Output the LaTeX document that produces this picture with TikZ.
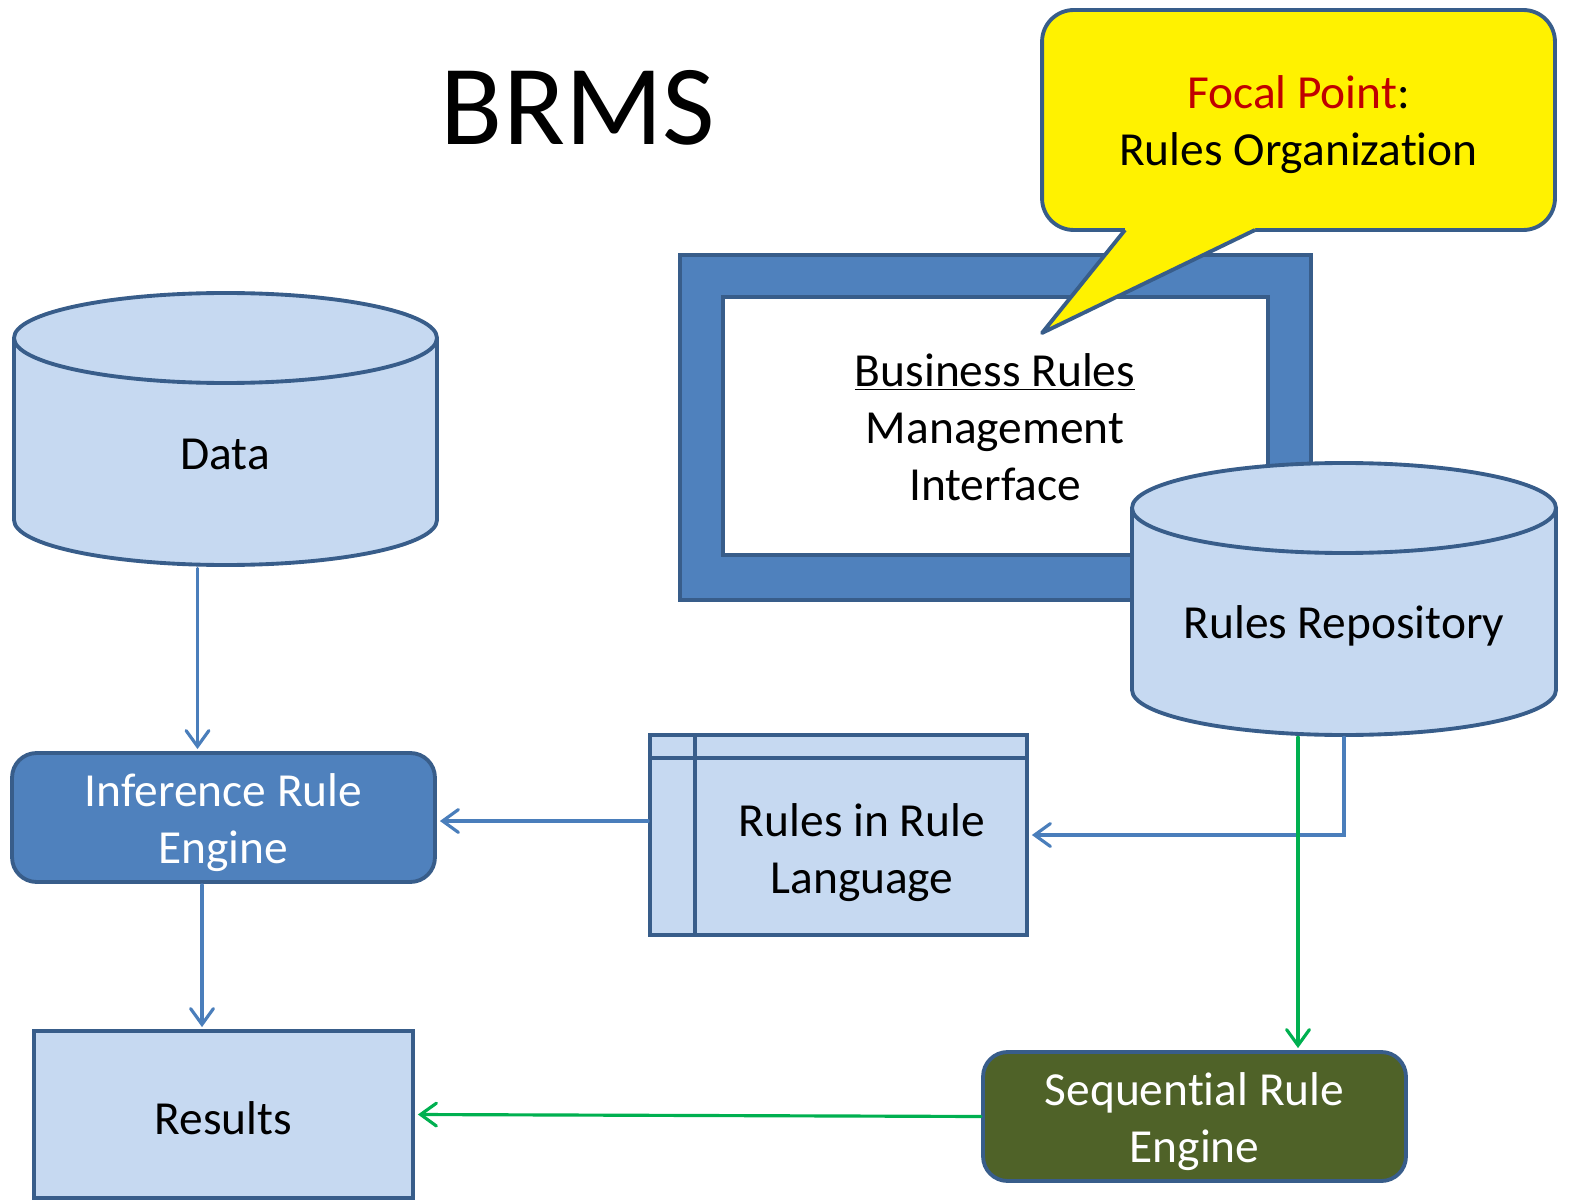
\documentclass[tikz,border=0pt]{standalone}
\usepackage{fontspec}
\setmainfont{Carlito}[Ligatures={NoCommon}]
\usetikzlibrary{arrows.meta,calc}
\definecolor{lightfill}{HTML}{C6D9F1}
\definecolor{bordc}{HTML}{385D8A}
\definecolor{medfill}{HTML}{4F81BD}
\definecolor{connb}{HTML}{4A7EBB}
\definecolor{conng}{HTML}{00B050}
\definecolor{olive}{HTML}{4F6228}
\definecolor{focred}{HTML}{C00000}
\begin{document}
\begin{tikzpicture}[x=0.02cm,y=-0.02cm,
  txt/.style={font=\fontsize{27}{32.4}\selectfont, align=center},
  bord/.style={draw=bordc, line width=2.2pt},
  conn/.style={draw=connb, line width=1.8pt, line cap=round, -{Straight Barb[length=9pt,width=13pt,line cap=round]}},
  gconn/.style={conn, draw=conng},
  box/.style={bord, inner sep=0pt},
  ghost/.style={inner sep=0pt}
]
\useasboundingbox (0,0) rectangle (1571,1202);

% title
\node[font=\fontsize{65}{70}\selectfont] (title) at (578,108) {BRMS};

% BRMS interface frame
\node[draw=bordc, line width=1.8pt, fill=medfill, minimum width=12.62cm, minimum height=6.9cm, inner sep=0pt] (frame) at (995.5,427.5) {};
\node[bord, fill=white, minimum width=10.9cm, minimum height=5.16cm, inner sep=0pt] (brmi) at (995.5,426) {};
\node[txt] (brmitext) at (995,427) {\underline{Business Rules}\\Management\\Interface};

% callout
\node[box, fill=yellow, rounded corners=18pt, minimum width=10.26cm, minimum height=4.4cm] (callout) at (1298.5,120) {};
\fill[yellow] (1125,230) -- (1042,333) -- (1255,230) -- (1255,225) -- (1125,225) -- cycle;
\draw[bord, line join=round] (1125,230) -- (1042,333) -- (1255,230);
\node[txt] (callouttext) at (1298.5,125) {\textcolor{focred}{Focal Point}:\\Rules Organization};

% Data cylinder
\filldraw[bord, fill=lightfill] (225.5,520) ellipse [x radius=211.5, y radius=45];
\fill[lightfill] (14,338) rectangle (437,520);
\draw[bord] (14,338) -- (14,520) (437,338) -- (437,520);
\filldraw[bord, fill=lightfill] (225.5,338) ellipse [x radius=211.5, y radius=45];
\node[ghost, minimum width=8.46cm, minimum height=5.44cm] (data) at (225.5,429) {};
\node[txt] (datatext) at (225,454) {Data};

% Rules Repository cylinder
\filldraw[bord, fill=lightfill] (1344,690) ellipse [x radius=212, y radius=45];
\fill[lightfill] (1132,508) rectangle (1556,690);
\draw[bord] (1132,508) -- (1132,690) (1556,508) -- (1556,690);
\filldraw[bord, fill=lightfill] (1344,508) ellipse [x radius=212, y radius=45];
\node[ghost, minimum width=8.48cm, minimum height=5.46cm] (repo) at (1344,598.5) {};
\node[txt] (repotext) at (1344,626) {Rules Repository};

% Inference Rule Engine
\node[box, fill=medfill, rounded corners=14pt, minimum width=8.46cm, minimum height=2.58cm] (inf) at (223.5,817.5) {};
\node[txt, text=white] (inftext) at (223.5,822.5) {Inference Rule\\Engine};

% Rules in Rule Language
\node[bord, fill=lightfill, minimum width=7.54cm, minimum height=4.0cm, inner sep=0pt] (rrl) at (838.5,835) {};
\draw[bord] ($(rrl.north west)+(0,25)$) -- ($(rrl.north east)+(0,25)$)
            ($(rrl.north west)+(47,0)$) -- ($(rrl.south west)+(47,0)$);
\node[txt] (rrltext) at (862,853) {Rules in Rule\\Language};

% Results
\node[box, fill=lightfill, minimum width=7.58cm, minimum height=3.34cm] (results) at (223.5,1114.5) {};
\node[txt] (resultstext) at (223.5,1118.5) {Results};

% Sequential Rule Engine
\node[box, fill=olive, rounded corners=14pt, minimum width=8.46cm, minimum height=2.58cm] (seq) at (1194.5,1116.5) {};
\node[txt, text=white] (seqtext) at (1194.5,1121.5) {Sequential Rule\\Engine};

% connectors
\draw[conn] ($(data.south)+(-28,3)$) -- ($(inf.north)+(-26,-2)$);
\draw[conn] ($(inf.south)+(-21.5,1)$) -- ($(results.north)+(-21.5,-2)$);
\draw[conn] ($(rrl.west)+(0,-14)$) coordinate (r1) -- ($(inf.east |- r1)+(3,0)$);
\draw[conn] ($(repo.south)+(0,2)$) |- ($(rrl.east)+(3,0)$);
\draw[gconn] ($(repo.south)+(-46,2)$) coordinate (g1) -- ($(g1 |- seq.north)+(0,-2)$);
\draw[gconn] (seq.west) -- ($(results.east)+(3,0)$);
\end{tikzpicture}
\end{document}
